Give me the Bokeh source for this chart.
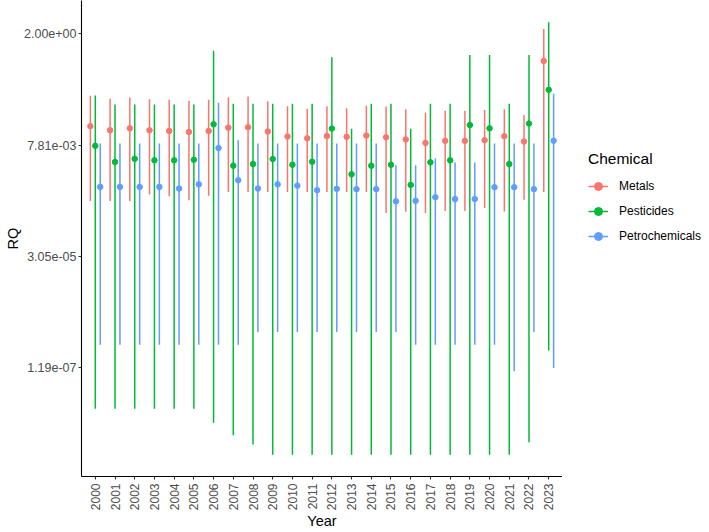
import math
from bokeh.plotting import figure
from bokeh.layouts import row
from bokeh.models import (ColumnDataSource, FactorRange, Range1d, FixedTicker,
                          CustomJSTickFormatter, Legend, LegendItem)
from bokeh.transform import dodge
from bokeh.embed import file_html
from bokeh.resources import INLINE

years = ["2000", "2001", "2002", "2003", "2004", "2005", "2006", "2007",
         "2008", "2009", "2010", "2011", "2012", "2013", "2014", "2015",
         "2016", "2017", "2018", "2019", "2020", "2021", "2022", "2023"]

chemicals = ["Metals", "Pesticides", "Petrochemicals"]
colors = ["#F8766D", "#00BA38", "#619CFF"]

metals_rq = [2.01e-2, 1.64e-2, 1.81e-2, 1.64e-2, 1.58e-2, 1.51e-2, 1.58e-2, 1.87e-2,
             1.91e-2, 1.54e-2, 1.20e-2, 1.10e-2, 1.23e-2, 1.18e-2, 1.26e-2, 1.16e-2,
             1.04e-2, 8.73e-3, 9.69e-3, 9.69e-3, 1.00e-2, 1.22e-2, 9.35e-3, 5.18e-1]
metals_high = [9.15e-2, 7.91e-2, 8.42e-2, 7.64e-2, 7.48e-2, 7.13e-2, 7.48e-2, 8.54e-2,
               8.84e-2, 6.98e-2, 5.40e-2, 4.80e-2, 5.40e-2, 4.94e-2, 5.59e-2, 5.33e-2,
               4.70e-2, 3.90e-2, 4.36e-2, 4.36e-2, 4.48e-2, 4.70e-2, 3.49e-2, 2.53]
metals_low = [4.82e-4, 4.82e-4, 4.82e-4, 6.72e-4, 6.10e-4, 5.02e-4, 6.27e-4, 7.61e-4,
              7.61e-4, 7.61e-4, 7.61e-4, 7.61e-4, 7.61e-4, 7.61e-4, 7.61e-4, 2.65e-4,
              2.82e-4, 2.65e-4, 2.94e-4, 2.94e-4, 3.41e-4, 2.88e-4, 5.13e-4, 7.61e-4]

pest_rq = [7.55e-3, 3.38e-3, 3.96e-3, 3.67e-3, 3.67e-3, 3.77e-3, 2.21e-2, 2.80e-3,
           3.04e-3, 3.91e-3, 2.94e-3, 3.42e-3, 1.78e-2, 1.83e-3, 2.80e-3, 2.94e-3,
           1.08e-3, 3.33e-3, 3.67e-3, 2.13e-2, 1.81e-2, 3.04e-3, 2.29e-2, 1.23e-1]
pest_high = [9.21e-2, 5.95e-2, 5.95e-2, 5.95e-2, 5.95e-2, 5.95e-2, 8.65e-1, 6.16e-2,
             6.16e-2, 6.16e-2, 6.16e-2, 6.16e-2, 6.20e-1, 1.77e-2, 6.16e-2, 6.16e-2,
             1.77e-2, 6.16e-2, 6.16e-2, 6.97e-1, 6.97e-1, 6.16e-2, 6.97e-1, 3.58]
pest_low = [1.56e-8, 1.56e-8, 1.56e-8, 1.56e-8, 1.56e-8, 1.56e-8, 7.71e-9, 4.16e-9,
            2.63e-9, 1.56e-9, 1.56e-9, 1.56e-9, 1.56e-9, 1.56e-9, 1.56e-9, 1.56e-9,
            1.56e-9, 1.56e-9, 1.56e-9, 1.56e-9, 1.56e-9, 1.56e-9, 2.94e-9, 2.82e-7]

petro_rq = [9.77e-4, 9.77e-4, 9.77e-4, 9.77e-4, 8.99e-4, 1.11e-3, 6.75e-3, 1.36e-3,
            8.99e-4, 1.11e-3, 1.04e-3, 8.27e-4, 8.86e-4, 8.74e-4, 8.74e-4, 4.75e-4,
            4.88e-4, 5.85e-4, 5.34e-4, 5.34e-4, 9.63e-4, 9.63e-4, 8.74e-4, 9.75e-3]
petro_high = [8.49e-3, 8.49e-3, 8.49e-3, 8.49e-3, 8.49e-3, 8.49e-3, 6.47e-2, 1.00e-2,
              8.49e-3, 8.49e-3, 8.49e-3, 8.49e-3, 8.49e-3, 8.49e-3, 8.49e-3, 2.88e-3,
              2.88e-3, 4.02e-3, 3.31e-3, 3.31e-3, 8.49e-3, 8.49e-3, 8.49e-3, 1.01e-1]
petro_low = [3.77e-7, 3.77e-7, 3.77e-7, 3.77e-7, 3.77e-7, 3.77e-7, 3.77e-7, 3.77e-7,
             7.08e-7, 7.08e-7, 7.08e-7, 7.08e-7, 7.08e-7, 7.08e-7, 7.08e-7, 7.08e-7,
             3.77e-7, 3.77e-7, 3.77e-7, 3.77e-7, 3.77e-7, 1.01e-7, 7.08e-7, 1.18e-7]

y_ticks = [2.0, 7.8125e-3, 3.0517578125e-05, 1.1920928955078125e-07]

series = [
    (metals_rq, metals_low, metals_high),
    (pest_rq, pest_low, pest_high),
    (petro_rq, petro_low, petro_high),
]
offsets = [-0.25, 0.0, 0.25]

# y range: 5% expansion in log space (like ggplot)
all_vals = metals_low + metals_high + pest_low + pest_high + petro_low + petro_high
lo = math.log2(min(all_vals))
hi = math.log2(max(all_vals))
pad = 0.05 * (hi - lo)

FONT = "Liberation Sans"
LW = 1.5
PT = 5.5

p = figure(width=562, height=532,
           x_range=FactorRange(*years, range_padding=0.2, range_padding_units="absolute"),
           y_range=Range1d(2 ** (lo - pad), 2 ** (hi + pad)),
           y_axis_type="log",
           output_backend="svg", toolbar_location=None,
           min_border_left=81, min_border_right=0, min_border_top=0,
           min_border_bottom=54)

p.outline_line_color = None
p.xgrid.visible = False
p.ygrid.visible = False
p.background_fill_color = "white"
p.border_fill_color = "white"

for name, col, (rq, low, high), off in zip(chemicals, colors, series, offsets):
    src = ColumnDataSource(dict(year=years, rq=rq, low=low, high=high))
    xx = dodge("year", off, range=p.x_range)
    p.segment(x0=xx, y0="low", x1=xx, y1="high", source=src,
              line_color=col, line_width=LW)
    p.scatter(x=xx, y="rq", source=src, size=PT, marker="circle",
              fill_color=col, line_color=col)

# axes
for ax in (p.xaxis[0], p.yaxis[0]):
    ax.axis_line_color = "black"
    ax.axis_line_width = 1.1
    ax.major_tick_line_color = "#333333"
    ax.major_tick_line_width = 1.1
    ax.major_tick_out = 3
    ax.major_tick_in = 0
    ax.minor_tick_out = 0
    ax.minor_tick_in = 0
    ax.major_label_text_color = "#4D4D4D"
    ax.major_label_text_font = FONT
    ax.axis_label_text_font = FONT
    ax.axis_label_text_font_style = "normal"
    ax.axis_label_text_color = "black"
    ax.axis_label_text_font_size = "14.5px"

p.xaxis.axis_label = "Year"
p.xaxis.major_label_orientation = math.pi / 2
p.xaxis.major_label_text_font_size = "12px"
p.xaxis.major_label_standoff = 4
p.xaxis.axis_label_standoff = 0

p.yaxis.axis_label = "RQ"
p.yaxis.ticker = FixedTicker(ticks=y_ticks, minor_ticks=[])
p.yaxis.formatter = CustomJSTickFormatter(code="""
const s = tick.toExponential(2);
return s.replace(/e([+-])(\\d)$/, function(m, a, b) { return "e" + a + "0" + b; });
""")
p.yaxis.major_label_text_font_size = "12.5px"
p.yaxis.major_label_standoff = 2
p.yaxis.axis_label_standoff = 0

# legend panel: keys come from renderers whose only row is NaN (nothing is plotted)
lp = figure(width=147, height=532, x_range=(0, 1), y_range=(0, 1),
            x_axis_location=None, y_axis_location=None,
            output_backend="svg", toolbar_location=None,
            min_border=0, outline_line_color=None)
lp.grid.visible = False
items = []
for name, col in zip(chemicals, colors):
    es = ColumnDataSource(dict(x=[float("nan")], y=[float("nan")]))
    seg = lp.segment(x0="x", y0="y", x1="x", y1="y", source=es,
                     line_color=col, line_width=LW)
    pt = lp.scatter(x="x", y="y", source=es, size=PT, marker="circle",
                    fill_color=col, line_color=col)
    items.append(LegendItem(label=name, renderers=[seg, pt]))

legend = Legend(items=items, title="Chemical", location=(26, 230),
                title_text_font=FONT, title_text_font_size="15.5px",
                title_text_font_style="normal", title_text_color="black",
                label_text_font=FONT, label_text_font_size="12px",
                label_text_color="black",
                glyph_width=20, glyph_height=20, label_height=20,
                spacing=5, padding=0, margin=0, label_standoff=11,
                title_standoff=8,
                border_line_alpha=0, background_fill_alpha=0)
lp.add_layout(legend)

layout = row(p, lp, spacing=0)
open("out.html", "w").write(file_html(layout, INLINE))
